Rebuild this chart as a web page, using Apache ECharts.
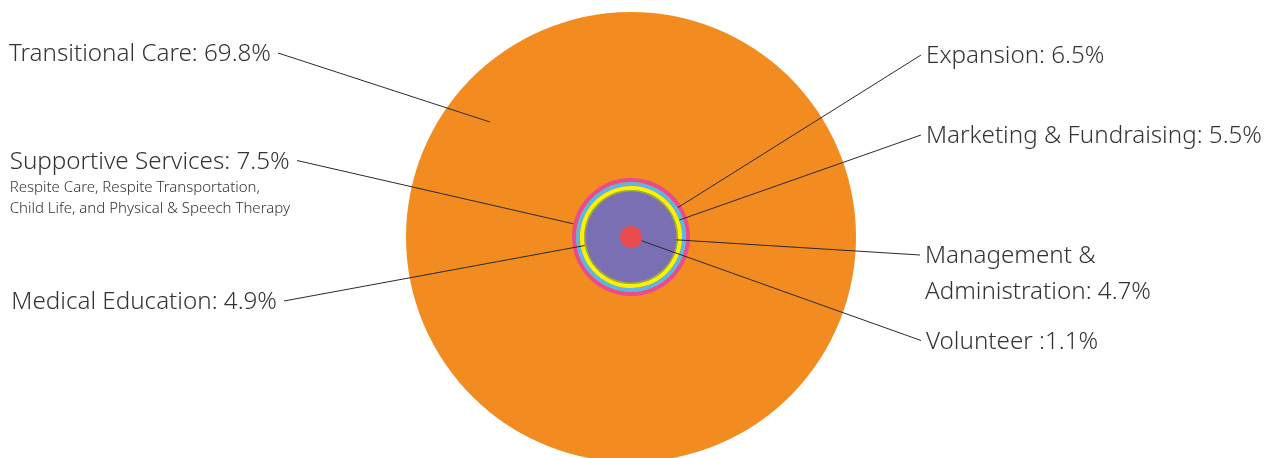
<!DOCTYPE html>
<html>
<head>
<meta charset="utf-8">
<script src="https://cdn.jsdelivr.net/npm/echarts@6/dist/echarts.min.js"></script>
<style>
  html, body { margin: 0; padding: 0; background: #ffffff; }
  #chart { width: 1276px; height: 458px; }
</style>
</head>
<body>
<div id="chart"></div>
<script>
// ---- data ----
const names = ['Transitional Care', 'Supportive Services', 'Expansion', 'Marketing & Fundraising', 'Medical Education', 'Management &\nAdministration', 'Volunteer '];
const values = [69.8, 7.5, 6.5, 5.5, 4.9, 4.7, 1.1];
const separators = [': ', ': ', ': ', ': ', ': ', ': ', ':'];
const notes = ['', 'Respite Care, Respite Transportation,\nChild Life, and Physical & Speech Therapy', '', '', '', '', ''];

// ---- styles / layout ----
const colors = ['#F28C20', '#EC4A8A', '#5BB7E4', '#FFF200', '#8CB43E', '#7B6FB4', '#E84B4B'];
const center = [631, 237];
const ringRadii = [[0, 225], [55, 59], [51, 55], [47, 51], [45.5, 47], [0, 45.5], [0, 11]];
const labelAnchors = [[278, 53], [297, 160.5], [921, 55], [921, 135], [284, 301], [920, 255], [921, 340.5]];
const orangeLineStart = [490, 122];
const FONT = '"Noto Sans", "Open Sans", sans-serif';
const MAIN = 24.2, SUB = 15, SHIFT = 1.5;

const chart = echarts.init(document.getElementById('chart'), null, { renderer: 'canvas' });

const richStyles = {
  m: { fontFamily: FONT, fontWeight: 300, fontSize: MAIN, lineHeight: 31, color: '#333333', align: 'left' },
  m2: { fontFamily: FONT, fontWeight: 300, fontSize: MAIN, lineHeight: 36, color: '#333333', align: 'left' },
  s: { fontFamily: FONT, fontWeight: 300, fontSize: SUB, lineHeight: 21, color: '#333333', align: 'left' }
};

function makeSeries(i, opts) {
  const name = names[i];
  const a = labelAnchors[i];
  const dx = a[0] - center[0], dy = a[1] - center[1];
  const phi = Math.atan2(dy, dx) * 180 / Math.PI;
  const len = Math.sqrt(dx * dx + dy * dy) - ringRadii[i][1];
  const text = name + separators[i] + values[i] + '%';
  let fmt, pad;
  if (notes[i]) {
    fmt = '{m|' + text + '}\n{s|' + notes[i] + '}';
    pad = 42 + 2 * SHIFT;
  } else if (name.indexOf('\n') >= 0) {
    fmt = text.split('\n').map(function (l) { return '{m2|' + l + '}'; }).join('\n');
    pad = 36 + 2 * SHIFT;
  } else {
    fmt = '{m|' + text + '}';
    pad = 2 * SHIFT;
  }
  const s = {
    type: 'pie',
    name: name,
    z: opts.z,
    center: center,
    radius: ringRadii[i],
    startAngle: 180 - phi,
    clockwise: true,
    silent: true,
    avoidLabelOverlap: false,
    emphasis: { disabled: true, scale: false },
    itemStyle: { color: opts.fill === false ? 'rgba(0,0,0,0)' : colors[i], borderWidth: 0 },
    label: {
      show: opts.label !== false,
      position: 'outside',
      color: '#333333',
      fontFamily: FONT,
      fontWeight: 300,
      fontSize: MAIN,
      distanceToLabelLine: a[0] < center[0] ? 7 : 5,
      overflow: 'none',
      padding: [pad, 0, 0, 0],
      formatter: function () { return fmt; },
      rich: richStyles
    },
    labelLine: {
      show: opts.label !== false,
      length: len,
      length2: 0,
      minTurnAngle: 0,
      maxSurfaceAngle: 0,
      smooth: false,
      lineStyle: { color: '#2a2a2a', width: 1 }
    },
    data: [{ name: name, value: values[i] }]
  };
  if (opts.lineStart) {
    s.labelLayout = function () {
      return { labelLinePoints: [opts.lineStart.slice(), a.slice(), a.slice()] };
    };
  }
  return s;
}

const series = [];
// big orange disc (its label is carried by a transparent copy drawn on top, so the leader line sits above the disc)
series.push(makeSeries(0, { z: 2, label: false }));
for (let i = 1; i < names.length; i++) series.push(makeSeries(i, { z: 2 + i }));
series.push(makeSeries(0, { z: 20, fill: false, lineStart: orangeLineStart }));

chart.setOption({
  animation: false,
  backgroundColor: '#ffffff',
  series: series
});
</script>
</body>
</html>
